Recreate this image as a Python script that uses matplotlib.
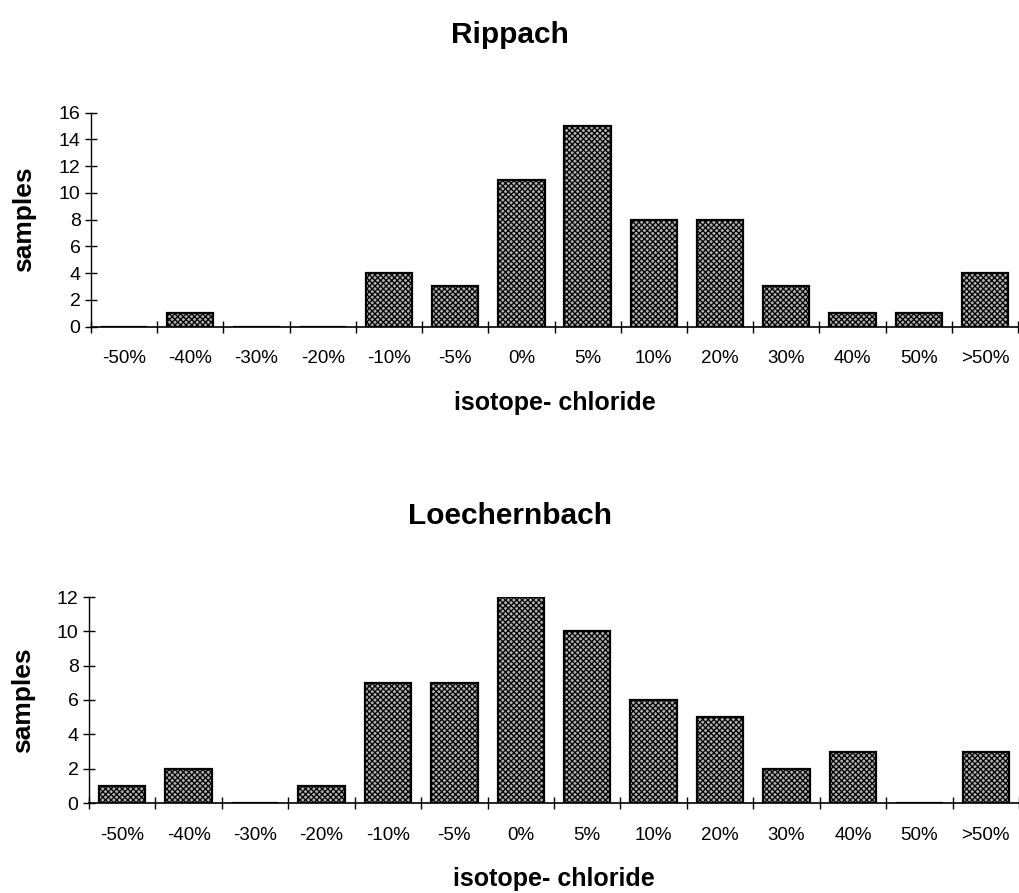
import matplotlib
matplotlib.use("Agg")
import matplotlib.pyplot as plt
import numpy as np

plt.rcParams['font.family'] = ['Liberation Sans', 'DejaVu Sans']
plt.rcParams['hatch.color'] = 'black'
plt.rcParams['hatch.linewidth'] = 0.9

categories = ['-50%', '-40%', '-30%', '-20%', '-10%', '-5%', '0%', '5%',
              '10%', '20%', '30%', '40%', '50%', '>50%']
rippach = [0, 1, 0, 0, 4, 3, 11, 15, 8, 8, 3, 1, 1, 4]
loechernbach = [1, 2, 0, 1, 7, 7, 12, 10, 6, 5, 2, 3, 0, 3]

W, H = 1019, 893
fig = plt.figure(figsize=(W / 100, H / 100), dpi=100)


def panel(rect, values, title, ymax, title_y, xlabel_y):
    ax = fig.add_axes(rect)
    x = np.arange(len(categories))
    ax.bar(x, values, width=0.7, facecolor='#b0b0b0', edgecolor='black',
           linewidth=1.6, hatch='xxxxxx', zorder=2)
    ax.set_xlim(-0.5, len(categories) - 0.5)
    ax.set_ylim(0, ymax)
    ax.set_yticks(np.arange(0, ymax + 1, 2))
    ax.set_xticks(x)
    ax.set_xticklabels(categories)
    ax.set_xticks(np.arange(-0.5, len(categories) - 0.4, 1), minor=True)
    ax.tick_params(axis='x', which='major', length=0, pad=17, labelsize=13.5)
    ax.tick_params(axis='x', which='minor', direction='inout', length=9,
                   width=1.0)
    ax.tick_params(axis='y', direction='inout', length=9, width=1.0,
                   labelsize=14, pad=3)
    for s in ('top', 'right'):
        ax.spines[s].set_visible(False)
    ax.spines['left'].set_linewidth(1.0)
    ax.spines['bottom'].set_linewidth(1.2)
    ax.set_ylabel('samples', fontsize=19, fontweight='bold', labelpad=16)
    fig.text(0.5, title_y, title, ha='center', va='baseline',
             fontsize=21.5, fontweight='bold')
    x0, _, w, _ = rect
    fig.text(x0 + w / 2, xlabel_y, 'isotope- chloride', ha='center',
             va='baseline', fontsize=18, fontweight='bold')
    return ax


panel([91 / W, 1 - 326.5 / H, (1018 - 91) / W, (326.5 - 112.7) / H],
      rippach, 'Rippach', 16, 1 - 43 / H, 1 - 410 / H)
panel([89 / W, 1 - 803 / H, (1019 - 89) / W, (803 - 597) / H],
      loechernbach, 'Loechernbach', 12, 1 - 524 / H, 1 - 886 / H)

fig.savefig('out.png', dpi=100, facecolor='white')
